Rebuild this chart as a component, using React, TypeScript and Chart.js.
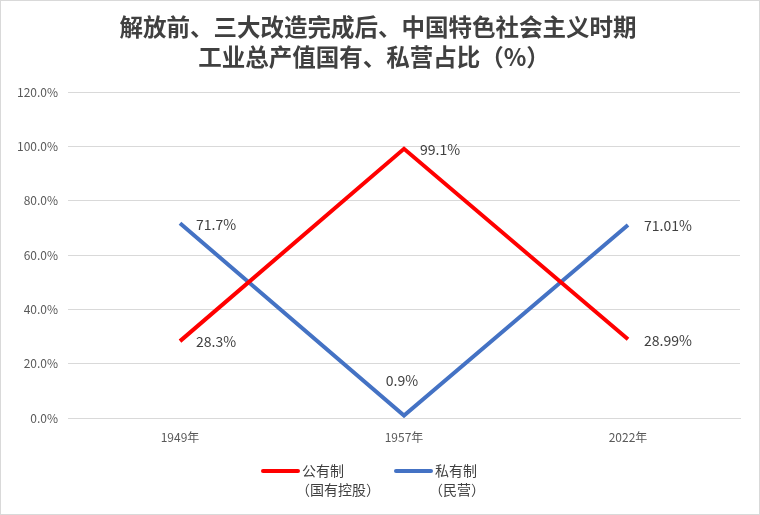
import React, { useEffect, useRef } from "react";
import { Chart, registerables } from "chart.js";

Chart.register(...registerables);

const categories = ["1949年", "1957年", "2022年"];
const publicShare = [0.283, 0.991, 0.2899];
const privateShare = [0.717, 0.009, 0.7101];
const publicLabels = ["28.3%", "99.1%", "28.99%"];
const privateLabels = ["71.7%", "0.9%", "71.01%"];
const titleLines = ["解放前、三大改造完成后、中国特色社会主义时期", "工业总产值国有、私营占比（%）"];
const legendNames = [["公有制", "（国有控股）"], ["私有制", "（民营）"]];
const colors = ["#ff0000", "#4472c4"];

const FONT = "'Noto Sans CJK SC', 'DejaVu Sans', sans-serif";

export default function App() {
  const ref = useRef<HTMLCanvasElement>(null);
  useEffect(() => {
    document.body.style.margin = "0";
    const canvas = ref.current!;
    const overlay = {
      id: "overlay",
      afterDraw(chart: any) {
        const ctx = chart.ctx;
        ctx.save();
        // border
        ctx.strokeStyle = "#d9d9d9";
        ctx.lineWidth = 1;
        ctx.strokeRect(0.5, 0.5, chart.width - 1, chart.height - 1);
        // title
        ctx.fillStyle = "#404040";
        ctx.font = `bold 23.5px ${FONT}`;
        ctx.textAlign = "center";
        ctx.textBaseline = "middle";
        ctx.fillText(titleLines[0], 378, 27);
        ctx.fillText(titleLines[1], 374, 57);
        // data labels
        ctx.font = `14px ${FONT}`;
        ctx.fillStyle = "#404040";
        const labelSets = [publicLabels, privateLabels];
        chart.data.datasets.forEach((ds: any, di: number) => {
          const meta = chart.getDatasetMeta(di);
          meta.data.forEach((pt: any, i: number) => {
            const txt = labelSets[di][i];
            if (di === 1 && i === 1) {
              ctx.textAlign = "center";
              ctx.fillText(txt, pt.x - 2, pt.y - 35);
            } else {
              ctx.textAlign = "left";
              ctx.fillText(txt, pt.x + 16, pt.y + 1);
            }
          });
        });
        // legend
        const items = [
          { x: 263, color: colors[0], lines: legendNames[0] },
          { x: 396, color: colors[1], lines: legendNames[1] },
        ];
        ctx.font = `14px ${FONT}`;
        ctx.textAlign = "left";
        items.forEach((it) => {
          ctx.strokeStyle = it.color;
          ctx.lineWidth = 4;
          ctx.lineCap = "round";
          ctx.beginPath();
          ctx.moveTo(it.x, 471);
          ctx.lineTo(it.x + 35, 471);
          ctx.stroke();
          ctx.fillStyle = "#404040";
          ctx.fillText(it.lines[0], it.x + 39, 471);
          ctx.fillText(it.lines[1], it.x + 33, 490);
        });
        ctx.restore();
      },
    };
    const chart = new Chart(canvas, {
      type: "line",
      data: {
        labels: categories,
        datasets: [
          {
            label: "公有制（国有控股）",
            data: publicShare,
            borderColor: colors[0],
            backgroundColor: colors[0],
            borderWidth: 4,
            pointRadius: 0,
            tension: 0,
          },
          {
            label: "私有制（民营）",
            data: privateShare,
            borderColor: colors[1],
            backgroundColor: colors[1],
            borderWidth: 4,
            pointRadius: 0,
            tension: 0,
          },
        ],
      },
      options: {
        responsive: false,
        animation: false,
        layout: { padding: { left: 8, right: 20, top: 92, bottom: 67 } },
        plugins: {
          legend: { display: false },
          title: { display: false },
          tooltip: { enabled: false },
        },
        scales: {
          x: {
            offset: true,
            grid: { display: false, drawTicks: false },
            border: { display: true, color: "#d9d9d9" },
            ticks: { color: "#595959", font: { size: 12, family: FONT }, padding: 12 },
            afterFit: (s: any) => { s.height = 30; },
          },
          y: {
            min: 0,
            max: 1.2,
            grid: { color: "#d9d9d9", drawTicks: false },
            border: { display: false },
            ticks: {
              stepSize: 0.2,
              color: "#595959",
              font: { size: 12, family: FONT },
              padding: 10,
              callback: (v: any) => (Number(v) * 100).toFixed(1) + "%",
            },
            afterFit: (s: any) => { s.width = 60; },
          },
        },
      },
      plugins: [overlay],
    });
    return () => chart.destroy();
  }, []);
  return <canvas ref={ref} width={760} height={515} style={{ display: "block" }} />;
}
